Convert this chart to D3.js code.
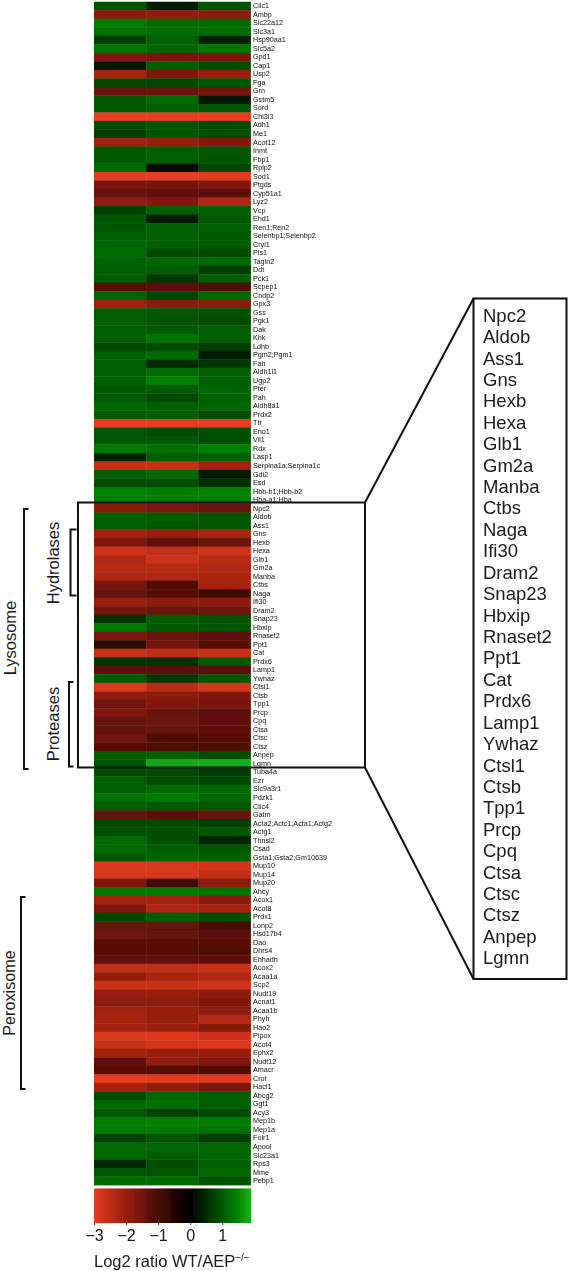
<!DOCTYPE html>
<html><head><meta charset="utf-8">
<script src="https://cdn.jsdelivr.net/npm/d3@7"></script>
<style>html,body{margin:0;padding:0;background:#fff}svg{display:block}text{font-family:"Liberation Sans",Arial,sans-serif}</style>
</head><body><svg id="c" width="568" height="1271"></svg>
<script>
const genes=["Clic1","Ambp","Slc22a12","Slc3a1","Hsp90aa1","Slc5a2","Gpd1","Cap1","Usp2","Fga","Grn","Gstm5","Sord","Chi3l3","Adh1","Me1","Acot12","Inmt","Fbp1","Rplp2",
"Sod1","Ptgds","Cyp51a1","Lyz2","Vcp","Ehd1","Ren1;Ren2","Selenbp1;Selenbp2","Cryl1","Pls1","Tagln2","Ddt","Pck1","Scpep1","Cndp2","Gpx3","Gss","Pgk1","Dak","Khk",
"Ldhb","Pgm2;Pgm1","Fah","Aldh1l1","Ugp2","Pter","Pah","Aldh8a1","Prdx2","Ttr","Eno1","Vil1","Rdx","Lasp1","Serpina1a;Serpina1c","Gdi2","Esd","Hbb-b1;Hbb-b2","Hba-a1;Hba",
"Npc2","Aldob","Ass1","Gns","Hexb","Hexa","Glb1","Gm2a","Manba","Ctbs","Naga","Ifi30","Dram2","Snap23","Hbxip","Rnaset2","Ppt1","Cat","Prdx6","Lamp1","Ywhaz","Ctsl1","Ctsb","Tpp1","Prcp","Cpq","Ctsa","Ctsc","Ctsz","Anpep","Lgmn",
"Tuba4a","Ezr","Slc9a3r1","Pdzk1","Clic4","Gatm","Acta2;Actc1;Acta1;Actg2","Actg1","Thnsl2","Csad","Gsta1;Gsta2;Gm10639","Mup10","Mup14","Mup20","Ahcy","Acox1","Acot8","Prdx1","Lonp2","Hsd17b4","Dao","Dhrs4","Ehhadh","Acox2","Acaa1a","Scp2","Nudt19","Acnat1","Acaa1b","Phyh","Hao2","Pipox","Acot4","Ephx2","Nudt12","Amacr","Crot","Hacl1","Abcg2","Ggt1","Acy3","Mep1b","Mep1a","Folr1","Apool","Slc23a1","Rps3","Mme","Pebp1"];
const sampleA=[1.0,-1.8,1.4,1.25,.7,1.35,-1.7,.25,-2.2,.85,-1.4,1.0,1.0,-3,.9,.7,-2.1,1.0,1.0,1.2,
-3,-1.6,-1.35,-1.9,.75,1.0,.95,1.1,1.15,1.2,1.1,1.05,1.05,-1.2,1.15,-2.1,1.05,1.05,1.05,1.05,
.85,1.1,1.05,1.05,1.1,1.0,1.0,1.2,1.05,-3,.95,.95,1.35,.4,-2.6,1.05,.9,1.45,1.4,
-1.8,1.1,1.1,-2.1,-1.7,-2.7,-2.3,-2.4,-2.3,-1.6,-1.35,-2.05,-1.55,.6,1.35,-1.6,-.6,-2.6,.6,-1.3,1.05,-2.9,-1.9,-1.5,-1.7,-1.35,-1.35,-1.5,-1.2,1.05,.95,
.85,1.1,1.1,1.25,1.05,-1.35,.85,.9,1.2,1.2,.95,-2.85,-2.85,-1.7,1.35,-2.1,-1.75,.85,-1.35,-1.5,-1.2,-1.2,-1.3,-2.5,-1.95,-2.6,-2.0,-1.8,-2.1,-2.2,-2.15,-2.85,-2.6,-2.1,-1.3,-1.2,-3,-2.2,.85,1.2,.95,1.4,1.35,.75,1.2,1.15,.45,.95,1.2];
const sampleB=[.35,-1.9,1.2,1.2,1.1,1.15,-1.6,1.1,-1.7,.8,-1.4,1.2,1.05,-3,.95,.95,-2.0,1.1,1.1,.15,
-3,-1.55,-1.3,-1.75,1.1,.3,1.1,1.1,1.1,.85,1.15,1.05,.65,-1.25,.8,-1.8,1.0,.95,1.0,1.3,
.85,1.2,.5,1.2,1.45,1.0,.8,1.1,1.1,-3,.85,1.0,1.25,1.05,-2.6,1.2,.9,1.4,1.4,
-1.6,1.05,.95,-2.0,-1.3,-2.5,-2.7,-2.35,-2.3,-1.1,-1.15,-1.85,-1.4,1.05,1.0,-1.4,-1.6,-2.5,.55,-1.25,.65,-2.4,-1.8,-1.75,-1.4,-1.45,-1.4,-1.1,-1.1,1.1,1.8,
.85,.9,1.2,1.35,1.0,-1.25,.85,.9,.9,1.05,1.15,-2.85,-2.85,-.9,1.35,-2.1,-2.3,1.1,-1.35,-1.35,-1.2,-1.2,-1.3,-2.5,-2.2,-2.6,-2.0,-1.8,-2.0,-1.95,-2.05,-2.9,-2.75,-2.0,-1.9,-1.15,-2.95,-1.9,1.15,1.25,.75,1.45,1.35,.95,1.15,1.05,.9,.95,1.2];
const sampleC=[.95,-1.8,1.2,1.2,.4,1.35,-1.6,.9,-2.0,1.0,-1.5,.25,.95,-3,.85,.9,-1.75,1.0,.95,.8,
-2.95,-1.7,-1.25,-2.3,1.05,1.0,1.05,1.0,1.05,.85,1.2,.7,1.05,-1.1,1.2,-1.8,.95,.85,1.05,1.05,
.7,.3,.65,1.1,1.05,1.15,1.1,1.15,.85,-3,.9,.9,1.45,1.05,-2.15,.3,.55,1.45,1.4,
-1.4,1.0,1.0,-2.2,-1.4,-2.7,-2.4,-2.3,-2.25,-2.2,-.85,-1.9,-1.5,.95,.95,-1.3,-1.2,-2.6,1.0,-1.25,1.0,-2.8,-1.7,-1.65,-1.25,-1.3,-1.3,-1.15,-1.1,.9,1.85,
.7,.8,1.2,1.15,.95,-1.4,.7,1.0,.45,1.0,1.1,-2.8,-2.55,-1.8,1.3,-1.8,-2.2,.9,-.95,-1.25,-1.2,-1.1,-1.3,-2.6,-2.3,-2.7,-1.9,-1.7,-1.85,-2.35,-1.8,-2.7,-2.9,-2.0,-1.7,-1.1,-2.9,-1.65,1.05,1.1,.85,1.4,1.25,.7,1.15,1.15,1.05,1.15,.95];
const samples=[sampleA,sampleB,sampleC];
const sampleNames=["s1","s2","s3"];
const insetGenes=genes.slice(genes.indexOf("Npc2"),genes.indexOf("Lgmn")+1);
const legendTicks=[-3,-2,-1,0,1];
const colorStops=[-3,-2,-1,0,1,1.45,1.87];
const colorValues=["#e63c20","#981e0c","#480b05","#000000","#005800","#008200","#1ab01e"];

const svg=d3.select("#c");
const defs=svg.append("defs");
function soft(id,sd){defs.append("filter").attr("id",id).attr("x","-5%").attr("y","-5%").attr("width","110%").attr("height","110%")
  .append("feGaussianBlur").attr("stdDeviation",sd);}
soft("soft",0.5);soft("textSoft",0.3);
const color=d3.scaleLinear().domain(colorStops).range(colorValues);
const x=d3.scaleBand().domain(sampleNames).range([94,250.5]);
const y=d3.scaleBand().domain(genes).range([1.75,1185]);

const cells=genes.flatMap((g,i)=>sampleNames.map((s,j)=>({g,s,v:samples[j][i]})));
svg.append("g").attr("filter","url(#soft)").selectAll("rect").data(cells).join("rect")
  .attr("x",d=>x(d.s)).attr("y",d=>y(d.g)).attr("width",x.bandwidth()+.4).attr("height",y.bandwidth()+.4)
  .attr("fill",d=>color(d.v));

const yAxis=d3.axisRight(y).tickSize(0).tickPadding(3);
const ya=svg.append("g").attr("transform","translate(250,0)").attr("filter","url(#textSoft)").call(yAxis);
ya.select(".domain").remove();
ya.selectAll("text").attr("font-size",7.2).attr("fill","#111");

// legend
const lx=d3.scaleLinear().domain([-3,1]).range([94,222.3]);
const lmax=lx.invert(251);
const samplesL=d3.range(94,251,1);
svg.append("g").attr("filter","url(#soft)").selectAll("rect").data(samplesL).join("rect")
  .attr("x",d=>d).attr("y",1188.5).attr("width",1.3).attr("height",34.5)
  .attr("fill",d=>color(Math.min(lmax,lx.invert(d+.5))));
const la=d3.axisBottom(lx).tickValues(legendTicks).tickSize(2).tickPadding(5)
  .tickFormat(d=>d<0?"\u2212"+(-d):d);
const lg=svg.append("g").attr("transform","translate(0,1223)").attr("filter","url(#textSoft)").call(la);
lg.select(".domain").remove();
lg.selectAll("line").attr("stroke","#333");
lg.selectAll("text").attr("font-size",16).attr("fill","#1a1a1a");
const lab=svg.append("text").attr("x",94).attr("y",1267).attr("font-size",16.5).attr("fill","#1a1a1a").attr("filter","url(#textSoft)");
lab.append("tspan").text("Log2 ratio WT/AEP");
lab.append("tspan").attr("dy",-6.5).attr("font-size",10).text("\u2212/\u2212");

// frames
const ink="#111";
svg.append("rect").attr("x",78).attr("y",502.5).attr("width",287).attr("height",265)
  .attr("fill","none").attr("stroke",ink).attr("stroke-width",2);
svg.append("rect").attr("x",473.5).attr("y",298.5).attr("width",93).attr("height",680.5)
  .attr("fill","#fff").attr("stroke",ink).attr("stroke-width",2);
const line=d3.line();
[[[365,502.5],[473.5,298.5]],[[365,767.5],[473.5,979]]].forEach(p=>
  svg.append("path").attr("d",line(p)).attr("fill","none").attr("stroke",ink).attr("stroke-width",2));
const insetY=d3.scalePoint().domain(insetGenes).range([321.7,964.3]);
svg.append("g").attr("filter","url(#textSoft)").selectAll("text").data(insetGenes).join("text")
  .attr("x",483).attr("y",d=>insetY(d)).attr("font-size",18.5).attr("fill","#1a1a1a").text(d=>d);

// brackets
const brackets=[
 {name:"Lysosome",x0:24,y0:509,y1:769,tick:4.5,tx:16,ty:638,fs:16.5},
 {name:"Hydrolases",x0:70.5,y0:529.5,y1:595.5,tick:6,tx:58.5,ty:563,fs:16.5},
 {name:"Proteases",x0:69,y0:682,y1:766.5,tick:4.5,tx:58.5,ty:724,fs:16.5},
 {name:"Peroxisome",x0:21,y0:897,y1:1089,tick:4.5,tx:15,ty:993,fs:16.2}];
const bg=svg.append("g");
brackets.forEach(b=>{
  bg.append("path").attr("fill","none").attr("stroke",ink).attr("stroke-width",2)
    .attr("d",line([[b.x0+b.tick,b.y0],[b.x0,b.y0],[b.x0,b.y1],[b.x0+b.tick,b.y1]]));
  bg.append("text").attr("transform",`translate(${b.tx},${b.ty}) rotate(-90)`)
    .attr("text-anchor","middle").attr("font-size",b.fs).attr("fill","#1a1a1a").text(b.name);
});
</script></body></html>
